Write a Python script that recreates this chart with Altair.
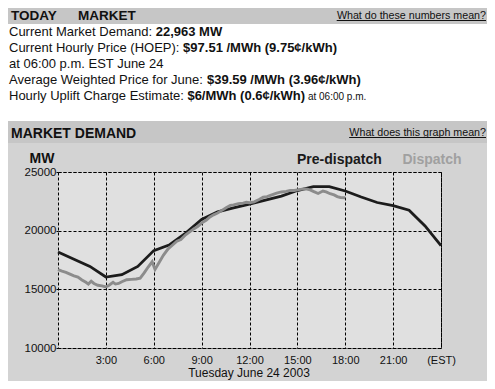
import altair as alt
import pandas as pd

FONT = "Liberation Sans"

# ---------------- data ----------------
pre_hours = list(range(25))
pre_mw = [18180, 17570, 16950, 16050, 16250, 16950, 18300, 18800, 19800, 20950,
          21600, 21950, 22270, 22600, 22950, 23420, 23760, 23760, 23380, 22870,
          22400, 22130, 21750, 20400, 18720]

disp_hours = [0.0, 0.25, 0.5, 0.75, 1.0, 1.25, 1.5, 1.75, 1.9, 2.08, 2.25, 2.5, 2.75,
              3.0, 3.2, 3.45, 3.6, 3.8, 4.0, 4.3, 4.6, 4.9, 5.15, 5.4, 5.65, 5.9,
              6.08, 6.3, 6.6, 6.9, 7.2, 7.45, 7.7, 8.0, 8.25, 8.5, 8.75, 9.0, 9.3,
              9.5, 9.75, 10.0, 10.3, 10.56, 10.8, 11.0, 11.3, 11.6, 11.8, 12.0,
              12.3, 12.6, 12.86, 13.1, 13.4, 13.7, 14.0, 14.3, 14.55, 14.8, 15.1,
              15.4, 15.6, 15.8, 16.0, 16.3, 16.6, 16.8, 17.05, 17.3, 17.5, 17.7, 18.0]
disp_mw = [16680, 16550, 16450, 16300, 16150, 16050, 15800, 15600, 15450, 15700, 15500,
           15350, 15300, 15200, 15350, 15600, 15450, 15500, 15650, 15820, 15850, 15880,
           15950, 16400, 16900, 17350, 16700, 17200, 17900, 18450, 18800, 19100, 19250,
           19650, 19900, 20150, 20350, 20650, 20900, 21150, 21350, 21500, 21750, 21980,
           22150, 22200, 22300, 22350, 22420, 22380, 22450, 22650, 22850, 22900, 23050,
           23200, 23300, 23350, 23430, 23420, 23500, 23560, 23540, 23480, 23350, 23170,
           23380, 23300, 23150, 23050, 22900, 22830, 22800]

x_tick_values = [3, 6, 9, 12, 15, 18, 21, 24]
y_tick_values = [10000, 15000, 20000, 25000]

info_labels = ["Current Market Demand: ", "Current Hourly Price (HOEP): ",
               "at 06:00 p.m. EST June 24", "Average Weighted Price for June: ",
               "Hourly Uplift Charge Estimate: "]
info_values = ["22,963 MW", "$97.51 /MWh (9.75\u00a2/kWh)", "",
               "$39.59 /MWh (3.96\u00a2/kWh)", "$6/MWh (0.6\u00a2/kWh)"]

# ---------------- layout helpers (page pixels -> plot-local pixels) ----------------
OX, OY = 58, 172


def trow(text, px, pyc, size, color="#111"):
    return {"x": px - OX, "y": pyc + 0.36 * size - OY, "text": text, "color": color}


def text_layer(rows, size, weight="normal", align="left"):
    return alt.Chart(pd.DataFrame(rows)).mark_text(
        font=FONT, fontSize=size, fontWeight=weight, align=align, baseline="alphabetic"
    ).encode(
        x=alt.X("x:Q", scale=None, axis=None),
        y=alt.Y("y:Q", scale=None, axis=None),
        text="text:N",
        color=alt.Color("color:N", scale=None),
    )


rects = pd.DataFrame([
    {"x": 8 - OX, "x2": 487 - OX, "y": 8 - OY, "y2": 24 - OY, "fill": "#c6c6c6"},
    {"x": 8 - OX, "x2": 487 - OX, "y": 24 - OY, "y2": 121 - OY, "fill": "#ffffff"},
    {"x": 8 - OX, "x2": 487 - OX, "y": 121 - OY, "y2": 143 - OY, "fill": "#c6c6c6"},
])
rect_layer = alt.Chart(rects).mark_rect().encode(
    x=alt.X("x:Q", scale=None, axis=None), x2="x2:Q",
    y=alt.Y("y:Q", scale=None, axis=None), y2="y2:Q",
    color=alt.Color("fill:N", scale=None),
)

underlines = pd.DataFrame([
    {"x": 336.7 - OX, "x2": 486 - OX, "y": 20.5 - OY},
    {"x": 349.2 - OX, "x2": 486 - OX, "y": 137.5 - OY},
])
underline_layer = alt.Chart(underlines).mark_rule(color="#111", strokeWidth=1).encode(
    x=alt.X("x:Q", scale=None, axis=None), x2="x2:Q",
    y=alt.Y("y:Q", scale=None, axis=None),
)

line_y = [31.5, 47.5, 63.5, 79.5, 95.5]
value_x = [155.7, 183.1, 0, 207.0, 187.4]

head_bold = text_layer([trow("TODAY", 11, 15.5, 13.5), trow("MARKET", 78, 15.5, 13.5)], 13.5, "bold")
head_bold14 = text_layer([
    trow("MARKET DEMAND", 11, 132.5, 14),
    trow("Pre-dispatch", 297, 159, 14, "#1a1a1a"),
], 14, "bold")
disp_label = text_layer([trow("Dispatch", 432, 159, 14, "#a0a0a0")], 14, "bold", "center")
mw_label = text_layer([trow("MW", 42, 158.3, 14)], 14, "bold", "center")
links = text_layer([
    trow("What do these numbers mean?", 486, 15.5, 10.7),
    trow("What does this graph mean?", 486, 132.5, 10.7),
], 10.7, "normal", "right")
info_reg = text_layer([trow(t, 9, yy, 13) for t, yy in zip(info_labels, line_y)], 13)
info_bold = text_layer([trow(v, xx, yy, 13) for v, xx, yy in zip(info_values, value_x, line_y) if v], 13, "bold")
info_small = text_layer([trow("at 06:00 p.m.", 307.9, 95.5, 13)], 10)
date_label = text_layer([trow("Tuesday June 24 2003", 249, 373, 12)], 12, "normal", "center")

# ---------------- the plot ----------------
x_scale = alt.Scale(domain=[0, 24], nice=False, zero=False)
y_scale = alt.Scale(domain=[10000, 25000], nice=False, zero=False)

x_axis = alt.Axis(
    values=x_tick_values,
    labelExpr="datum.value == 24 ? '(EST)' : datum.value + ':00'",
    grid=True, gridColor="#000", gridDash=[3, 2], gridOpacity=1, gridWidth=1,
    domain=False, ticks=False, tickSize=0, labelPadding=6,
    labelFont=FONT, labelFontSize=11, labelColor="#111",
    labelFlush=False, labelOverlap=False, labelBound=False, title=None,
)
y_axis = alt.Axis(
    values=y_tick_values, format="d",
    grid=True, gridColor="#000", gridDash=[3, 2], gridOpacity=1, gridWidth=1,
    domain=False, ticks=True, tickSize=2, tickColor="#000", labelPadding=0,
    labelFont=FONT, labelFontSize=11.5, labelColor="#111",
    labelFlush=False, labelOverlap=False, labelBound=False, title=None,
)

pre_line = alt.Chart(pd.DataFrame({"hour": pre_hours, "MW": pre_mw})).mark_line(
    color="#1c1c1c", strokeWidth=2.8
).encode(
    x=alt.X("hour:Q", scale=x_scale, axis=x_axis),
    y=alt.Y("MW:Q", scale=y_scale, axis=y_axis),
)
disp_line = alt.Chart(pd.DataFrame({"hour": disp_hours, "MW": disp_mw})).mark_line(
    color="#8c8c8c", strokeWidth=2.9
).encode(
    x=alt.X("hour:Q", scale=x_scale),
    y=alt.Y("MW:Q", scale=y_scale),
)

chart = alt.layer(
    rect_layer, underline_layer, pre_line, disp_line,
    head_bold, head_bold14, disp_label, mw_label, links,
    info_reg, info_bold, info_small, date_label,
).properties(
    width=383, height=176,
    autosize=alt.AutoSizeParams(type="none"),
    padding={"left": 50, "top": 164, "right": 46, "bottom": 33},
    background="#d3d3d3",
).configure_view(
    stroke="#000", strokeDash=[3, 2], strokeWidth=1, fill="#e0e0e0",
)

chart.save("out.html", embed_options={"renderer": "svg", "actions": False})
